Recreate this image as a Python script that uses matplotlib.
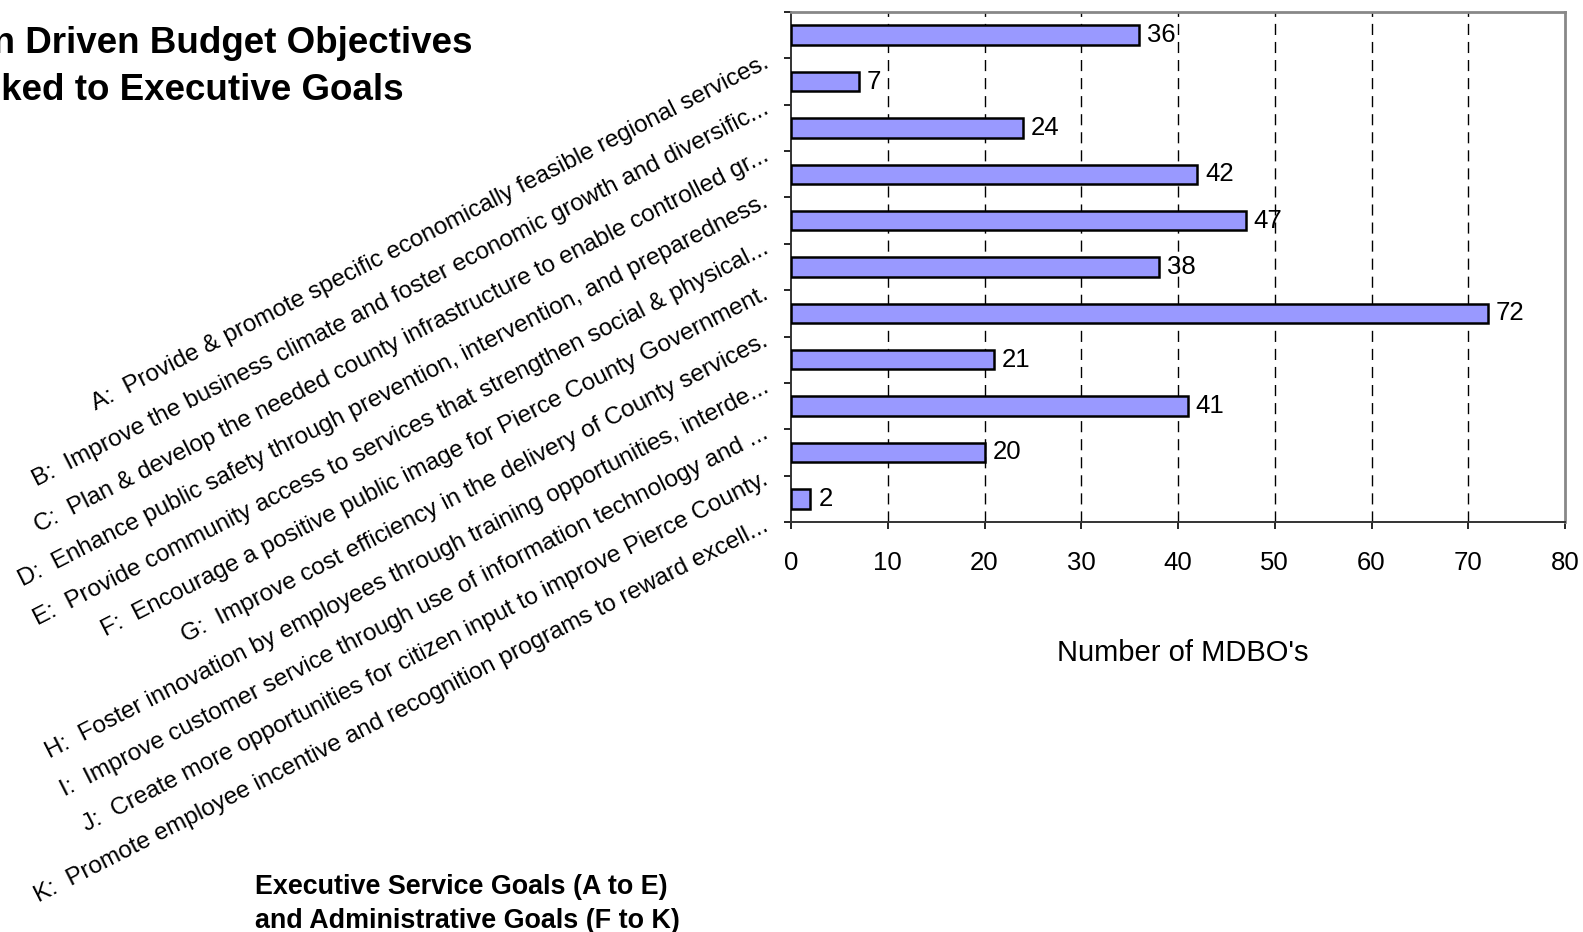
import matplotlib
matplotlib.use("Agg")
import matplotlib.pyplot as plt
import matplotlib.transforms as mtransforms
import numpy as np

plt.rcParams['font.family'] = ['Liberation Sans', 'DejaVu Sans']

categories = [
    "A:  Provide & promote specific economically feasible regional services.",
    "B:  Improve the business climate and foster economic growth and diversific...",
    "C:  Plan & develop the needed county infrastructure to enable controlled gr...",
    "D:  Enhance public safety through prevention, intervention, and preparedness.",
    "E:  Provide community access to services that strengthen social & physical...",
    "F:  Encourage a positive public image for Pierce County Government.",
    "G:  Improve cost efficiency in the delivery of County services.",
    "H:  Foster innovation by employees through training opportunities, interde...",
    "I:  Improve customer service through use of information technology and ...",
    "J:  Create more opportunities for citizen input to improve Pierce County.",
    "K:  Promote employee incentive and recognition programs to reward excell...",
]
values = [36, 7, 24, 42, 47, 38, 72, 21, 41, 20, 2]
xticks = [0, 10, 20, 30, 40, 50, 60, 70, 80]

W, H = 1583, 932
fig = plt.figure(figsize=(W / 100, H / 100), dpi=100)
ax = fig.add_axes([791 / W, 1 - 522 / H, (1565 - 791) / W, (522 - 12) / H])

y = np.arange(len(values))
ax.barh(y, values, height=0.42, color='#9999FF', edgecolor='black',
        linewidth=1.8, zorder=3)
ax.set_xlim(0, 80)
ax.set_ylim(len(values) - 0.5, -0.5)
ax.set_xticks(xticks)
ax.set_xticklabels([str(t) for t in xticks], fontsize=18.5)
ax.set_yticks(np.arange(-0.5, len(values), 1.0))
ax.set_yticklabels([])
ax.tick_params(axis='y', direction='out', length=5, width=1.2, color='black')
ax.tick_params(axis='x', direction='out', length=5, width=1.2, color='black', pad=16)

for v in xticks[1:-1]:
    ax.axvline(v, color='black', linewidth=1.0, linestyle=(0, (8, 5)), zorder=1)

for s in ['top', 'right']:
    ax.spines[s].set_color('#888888')
    ax.spines[s].set_linewidth(2.0)
for s in ['left', 'bottom']:
    ax.spines[s].set_color('#333333')
    ax.spines[s].set_linewidth(1.4)

for yi, v in zip(y, values):
    ax.annotate(str(v), xy=(v, yi), xytext=(8, 0), textcoords='offset pixels',
                ha='left', va='center', fontsize=18.5, zorder=4)

ytrans = mtransforms.offset_copy(ax.get_yaxis_transform(), fig=fig, x=-24, y=-3, units='dots')
for yi, lab in zip(y, categories):
    ax.text(0, yi + 0.5, lab, transform=ytrans, rotation=27, rotation_mode='anchor',
            ha='right', va='center', fontsize=17.5)

ax.set_xlabel("Number of MDBO's", fontsize=21)
ax.xaxis.set_label_coords(0.506, 1 - (653 - 12) / (522 - 12), transform=ax.transAxes)
ax.xaxis.label.set_va('center')

fig.text(175 / W, 1 - 67 / H, "Mission Driven Budget Objectives\nLinked to Executive Goals",
         ha='center', va='center', fontsize=26.5, fontweight='bold', linespacing=1.42)

fig.text(255 / W, 1 - 904 / H, "Executive Service Goals (A to E)\nand Administrative Goals (F to K)",
         ha='left', va='center', fontsize=19.4, fontweight='bold', linespacing=1.38)

fig.savefig("out.png", dpi=100)
